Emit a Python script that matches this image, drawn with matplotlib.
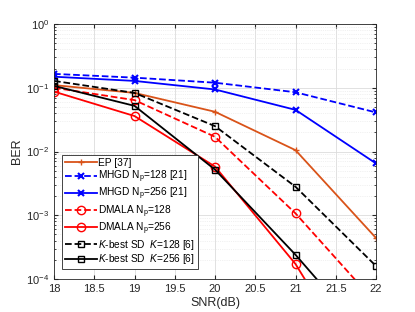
import numpy as np
import matplotlib
matplotlib.use('Agg')
import matplotlib.pyplot as plt
from matplotlib.ticker import LogLocator, NullFormatter

plt.rcParams['font.family'] = ['Liberation Sans', 'DejaVu Sans']
plt.rcParams['mathtext.fontset'] = 'custom'
plt.rcParams['mathtext.rm'] = 'Liberation Sans'
plt.rcParams['mathtext.it'] = 'Liberation Sans:italic'

snr = [18, 19, 20, 21, 22]
ber_ep = [0.11, 0.083, 0.042, 0.0105, 4.4e-4]
ber_mhgd128 = [0.165, 0.144, 0.12, 0.085, 0.041]
ber_mhgd256 = [0.149, 0.128, 0.094, 0.045, 0.0065]
ber_dmala128 = [0.10, 0.064, 0.017, 0.00107, 4.2e-5]
ber_dmala256 = [0.087, 0.036, 0.0058, 1.72e-4, 1.5e-6]
ber_kbest128 = [0.128, 0.083, 0.025, 0.0028, 1.6e-4]
ber_kbest256 = [0.107, 0.052, 0.0052, 2.4e-4, 8.5e-6]

labels = ['EP [37]',
          r'MHGD N$_\mathrm{p}$=128 [21]',
          r'MHGD N$_\mathrm{p}$=256 [21]',
          r'DMALA N$_\mathrm{p}$=128',
          r'DMALA N$_\mathrm{p}$=256',
          r'$K$-best SD  $K$=128 [6]',
          r'$K$-best SD  $K$=256 [6]']

orange = '#D95319'
fig = plt.figure(figsize=(4.15, 3.12), dpi=100)
ax = fig.add_axes([54/415, 1 - 279/312, (376-54)/415, (279-24)/312])

lw = 1.3
ms = 5
ax.plot(snr, ber_ep, '-', color=orange, marker='+', lw=lw, ms=ms, label=labels[0])
ax.plot(snr, ber_mhgd128, '--', color='b', marker='x', lw=lw, ms=ms, mew=1.5, label=labels[1])
ax.plot(snr, ber_mhgd256, '-', color='b', marker='x', lw=lw, ms=ms, mew=1.5, label=labels[2])
ax.plot(snr, ber_dmala128, '--', color='r', marker='o', mfc='none', lw=lw, ms=ms+1, label=labels[3])
ax.plot(snr, ber_dmala256, '-', color='r', marker='o', mfc='none', lw=lw, ms=ms+1, label=labels[4])
ax.plot(snr, ber_kbest128, '--', color='k', marker='s', mfc='none', lw=lw, ms=ms-0.5, label=labels[5])
ax.plot(snr, ber_kbest256, '-', color='k', marker='s', mfc='none', lw=lw, ms=ms-0.5, label=labels[6])

ax.set_yscale('log')
ax.set_xlim(18, 22)
ax.set_ylim(1e-4, 1)
ax.set_xticks(np.arange(18, 22.01, 0.5))
ax.set_xticklabels(['18', '18.5', '19', '19.5', '20', '20.5', '21', '21.5', '22'])
ax.yaxis.set_major_locator(LogLocator(base=10, numticks=10))
ax.yaxis.set_minor_locator(LogLocator(base=10, subs=np.arange(2, 10), numticks=20))
ax.yaxis.set_minor_formatter(NullFormatter())
ax.grid(True, which='major', color='#dcdcdc', lw=0.6)
ax.grid(True, which='minor', axis='y', color='#e4e4e4', lw=0.5, ls=':')
ax.set_axisbelow(True)
ax.tick_params(direction='in', which='both', top=True, right=True, labelsize=8, colors='#262626', length=3)
ax.tick_params(which='minor', length=1.5)
for s in ax.spines.values():
    s.set_color('#262626')
    s.set_linewidth(0.6)

ax.set_xlabel('SNR(dB)', fontsize=9, color='#262626', labelpad=2)
ax.set_ylabel('BER', fontsize=9, color='#262626', labelpad=2)

leg = ax.legend(loc='lower left', bbox_to_anchor=(8/322, 10/255), fontsize=7.3,
                frameon=True, fancybox=False,
                edgecolor='#262626', framealpha=1, handlelength=3.2,
                handletextpad=0.15, borderpad=0.25, labelspacing=0.08,
                borderaxespad=0)
leg.get_frame().set_linewidth(0.6)

fig.savefig('out.png', dpi=100)
